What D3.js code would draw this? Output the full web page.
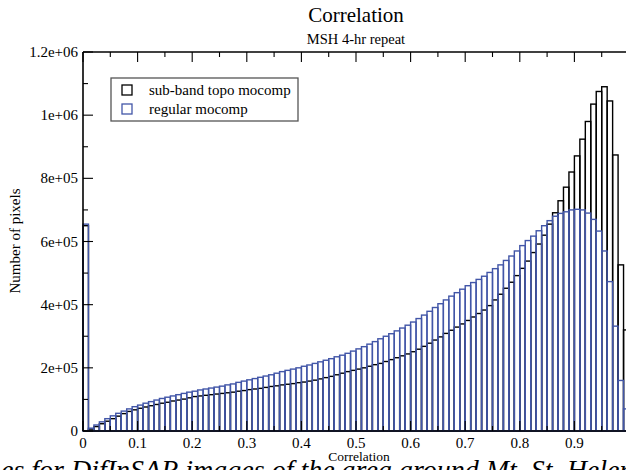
<!DOCTYPE html>
<html>
<head>
<meta charset="utf-8">
<script src="https://cdn.jsdelivr.net/npm/d3@7"></script>
<style>
body { margin: 0; background: #fff; }
text { font-family: "Liberation Serif", "DejaVu Serif", serif; }
</style>
</head>
<body>
<script>
var width = 626, height = 470;

// histogram bins, width 0.01, left edges 0.00 .. 0.99
var binWidth = 0.01;
var binStarts = d3.range(100).map(function(i){ return i / 100; });

// sub-band topo mocomp (black)
var subband = [
 650000, 6000, 14000, 23000, 31000, 39000, 47000, 55000, 62000, 67000,
 72000, 76000, 80000, 84000, 88000, 91000, 95000, 98000, 101000, 105000,
 109000, 111000, 113000, 115000, 117000, 119000, 121000, 123000, 126000, 128000,
 131000, 133000, 135000, 138000, 141000, 143000, 146000, 148000, 150000, 153000,
 155000, 158000, 161000, 165000, 169000, 173000, 178000, 183000, 188000, 192000,
 196000, 200000, 205000, 210000, 214000, 220000, 226000, 232000, 238000, 244000,
 251000, 259000, 268000, 278000, 288000, 298000, 309000, 319000, 329000, 339000,
 350000, 361000, 372000, 383000, 397000, 415000, 433000, 452000, 471000, 492000,
 515000, 538000, 565000, 592000, 620000, 655000, 691000, 729000, 772000, 820000,
 871000, 924000, 980000, 1035000, 1075000, 1090000, 1045000, 874000, 526000, 320000
];

// regular mocomp (blue)
var regular = [
 655000, 9000, 19000, 29000, 39000, 48000, 56000, 63000, 70000, 77000,
 82000, 88000, 93000, 98000, 103000, 107000, 111000, 115000, 119000, 123000,
 126000, 130000, 133000, 136000, 139000, 142000, 146000, 149000, 154000, 158000,
 162000, 166000, 170000, 174000, 178000, 183000, 188000, 192000, 196000, 200000,
 205000, 209000, 214000, 219000, 224000, 229000, 235000, 240000, 246000, 253000,
 260000, 267000, 275000, 283000, 292000, 300000, 308000, 317000, 326000, 335000,
 345000, 356000, 367000, 379000, 391000, 403000, 415000, 427000, 438000, 449000,
 460000, 470000, 480000, 490000, 502000, 514000, 526000, 540000, 554000, 570000,
 587000, 603000, 617000, 634000, 650000, 666000, 680000, 689000, 694000, 700000,
 702000, 700000, 690000, 670000, 633000, 570000, 473000, 332000, 160000, 70000
];

var xTicks = [0, 0.1, 0.2, 0.3, 0.4, 0.5, 0.6, 0.7, 0.8, 0.9];
var xTickLabels = ["0", "0.1", "0.2", "0.3", "0.4", "0.5", "0.6", "0.7", "0.8", "0.9"];
var yTicks = [0, 200000, 400000, 600000, 800000, 1000000, 1200000];
var yTickLabels = ["0", "2e+05", "4e+05", "6e+05", "8e+05", "1e+06", "1.2e+06"];

var seriesNames = ["sub-band topo mocomp", "regular mocomp"];
var seriesColors = ["#000000", "#4256a8"];

var x = d3.scaleLinear().domain([0, 1]).range([83, 629]);
var y = d3.scaleLinear().domain([0, 1200000]).range([431, 52]);

var svg = d3.select("body")
            .append("svg")
            .attr("width", width)
            .attr("height", height);

// bars, black first, blue over it
[subband, regular].forEach(function(values, si){
  svg.append("g")
     .selectAll("rect")
     .data(values)
     .enter().append("rect")
       .attr("x", function(d, i){ return x(binStarts[i]); })
       .attr("y", function(d){ return y(d); })
       .attr("width", x(binWidth) - x(0))
       .attr("height", function(d){ return y(0) - y(d); })
       .attr("fill", "none")
       .attr("stroke", seriesColors[si])
       .attr("stroke-width", 1.4);
});

// frame
var frame = svg.append("g").attr("stroke", "#000").attr("stroke-width", 1.6);
frame.append("line").attr("x1", x(0)).attr("x2", x(1)).attr("y1", y(0)).attr("y2", y(0));
frame.append("line").attr("x1", x(0)).attr("x2", x(1)).attr("y1", y(1200000)).attr("y2", y(1200000));
frame.append("line").attr("x1", x(0)).attr("x2", x(0)).attr("y1", y(0)).attr("y2", y(1200000));

// inward ticks
var xMinor = d3.range(0.05, 1, 0.1);
var yMinor = d3.range(100000, 1200000, 200000);
var ticks = svg.append("g").attr("stroke", "#000").attr("stroke-width", 1.1);
function xTick(v, len){
  ticks.append("line").attr("x1", x(v)).attr("x2", x(v)).attr("y1", y(0)).attr("y2", y(0) - len);
  ticks.append("line").attr("x1", x(v)).attr("x2", x(v)).attr("y1", y(1200000)).attr("y2", y(1200000) + len);
}
xTicks.forEach(function(v){ xTick(v, 10); });
xMinor.forEach(function(v){ xTick(v, 5); });
yTicks.forEach(function(v){
  ticks.append("line").attr("x1", x(0)).attr("x2", x(0) + 10).attr("y1", y(v)).attr("y2", y(v));
});
yMinor.forEach(function(v){
  ticks.append("line").attr("x1", x(0)).attr("x2", x(0) + 5).attr("y1", y(v)).attr("y2", y(v));
});

// tick labels
svg.append("g").selectAll("text").data(xTicks).enter().append("text")
   .attr("x", function(d){ return x(d); })
   .attr("y", 448)
   .attr("text-anchor", "middle")
   .attr("font-size", 15)
   .text(function(d, i){ return xTickLabels[i]; });

svg.append("g").selectAll("text").data(yTicks).enter().append("text")
   .attr("x", 78)
   .attr("y", function(d){ return y(d) + 5; })
   .attr("text-anchor", "end")
   .attr("font-size", 15)
   .text(function(d, i){ return yTickLabels[i]; });

// titles
svg.append("text").attr("x", 356).attr("y", 22).attr("text-anchor", "middle")
   .attr("font-size", 21).text("Correlation");
svg.append("text").attr("x", 356).attr("y", 44).attr("text-anchor", "middle")
   .attr("font-size", 14.5).text("MSH 4-hr repeat");
svg.append("text").attr("x", 359).attr("y", 461).attr("text-anchor", "middle")
   .attr("font-size", 13.5).text("Correlation");
svg.append("text")
   .attr("transform", "translate(20,241) rotate(-90)")
   .attr("text-anchor", "middle")
   .attr("font-size", 15)
   .text("Number of pixels");

// legend
var legend = svg.append("g");
legend.append("rect").attr("x", 111).attr("y", 78).attr("width", 187).attr("height", 43)
      .attr("fill", "#fff").attr("stroke", "#555").attr("stroke-width", 1.3);
seriesNames.forEach(function(name, i){
  var cy = 90 + i * 19;
  legend.append("rect").attr("x", 122).attr("y", cy - 5).attr("width", 10).attr("height", 10)
        .attr("fill", "none").attr("stroke", seriesColors[i]).attr("stroke-width", 1.3);
  legend.append("text").attr("x", 149).attr("y", cy + 5)
        .attr("font-size", 15).text(name);
});

// caption of the page, cut at the bottom
svg.append("text").attr("x", 1).attr("y", 479)
   .attr("font-size", 28).attr("font-style", "italic")
   .text("es for DifInSAR images of the area around Mt. St. Helens");
</script>
</body>
</html>
